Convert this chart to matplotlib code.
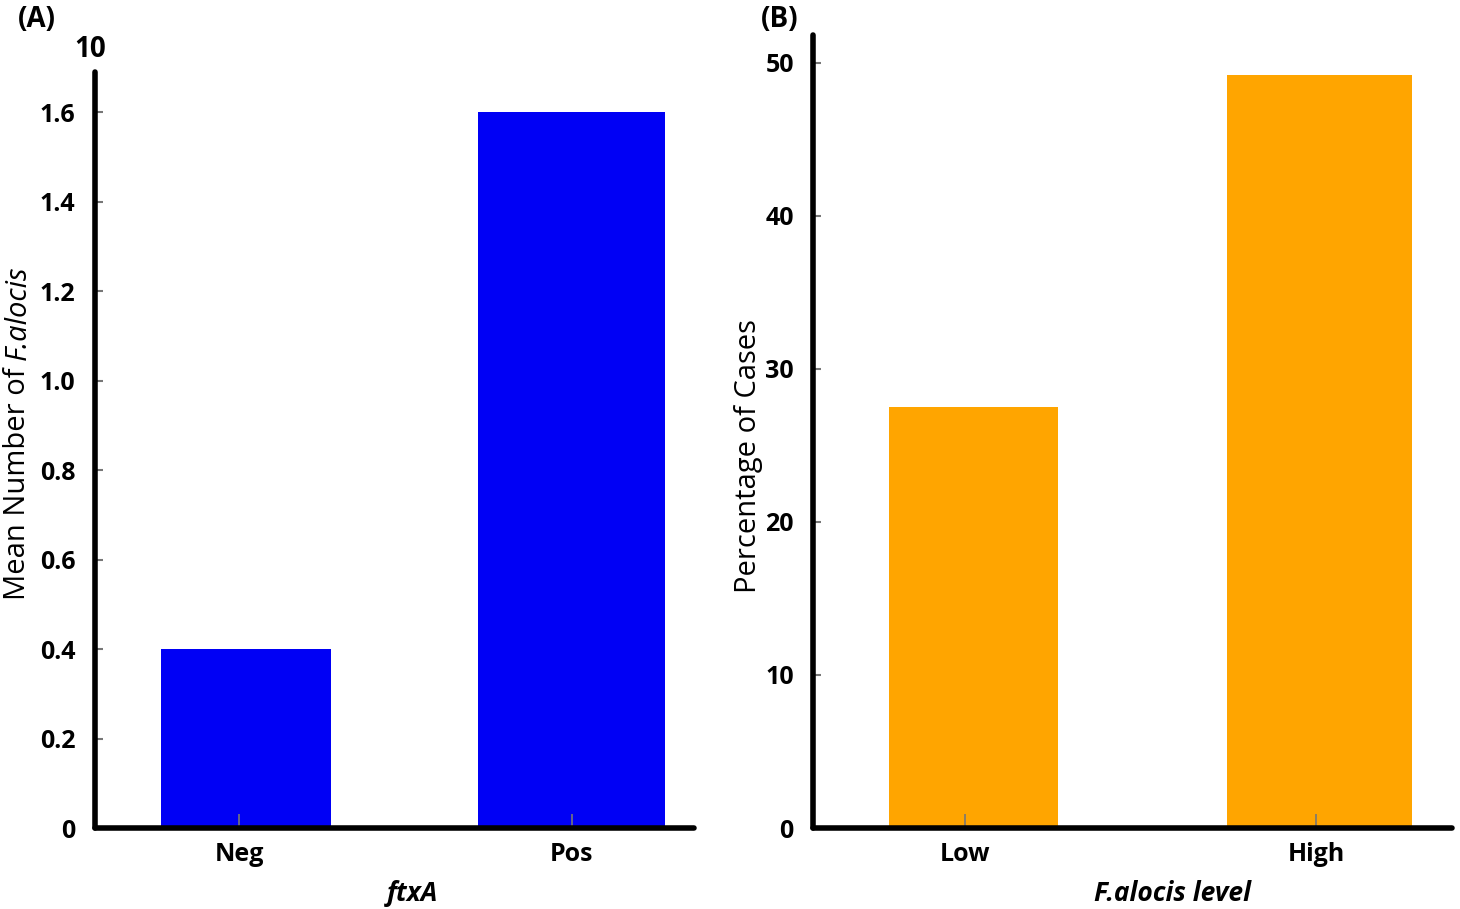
import matplotlib.pyplot as plt

plt.rcParams['font.family'] = ['Open Sans', 'DejaVu Sans']

# panel A data
ftxa_groups = ['Neg', 'Pos']
ftxa_means = [0.40, 1.60]
ftxa_ticks = [0, 0.2, 0.4, 0.6, 0.8, 1.0, 1.2, 1.4, 1.6]
ftxa_ticklabels = ['0', '0.2', '0.4', '0.6', '0.8', '1.0', '1.2', '1.4', '1.6']

# panel B data
level_groups = ['Low', 'High']
level_pct = [27.5, 49.2]
level_ticks = [0, 10, 20, 30, 40, 50]

fig = plt.figure(figsize=(14.6, 9.09), dpi=100)

axA = fig.add_axes([0.065, 0.089, 0.410, 0.832])
axB = fig.add_axes([0.557, 0.089, 0.4375, 0.8725])


def style_axis(ax):
    for side in ['top', 'right']:
        ax.spines[side].set_visible(False)
    for side in ['left', 'bottom']:
        ax.spines[side].set_linewidth(4)
        ax.spines[side].set_capstyle('round')
    ax.tick_params(axis='y', direction='in', length=6, width=1.5, color='#777777',
                   labelsize=18, pad=14)
    ax.tick_params(axis='x', direction='in', length=10, width=1.2, color='#777777',
                   labelsize=18, pad=10)
    for lbl in ax.get_xticklabels() + ax.get_yticklabels():
        lbl.set_fontweight('bold')


# (A)
axA.bar([0.02, 1.0], ftxa_means, width=[0.51, 0.56], color='#0000f5', zorder=1)
axA.set_xlim(-0.434, 1.367)
axA.set_ylim(0, 1.69)
axA.set_xticks([0, 1])
axA.set_xticklabels(ftxa_groups)
axA.set_yticks(ftxa_ticks)
axA.set_yticklabels(ftxa_ticklabels)
style_axis(axA)
axA.set_xlabel('ftxA', fontsize=19, fontweight='bold', style='italic')
axA.xaxis.set_label_coords(0.53, -0.068)

# y label in two parts so only the species name is italic
ylab1 = fig.text(0.0123, 0.340, 'Mean Number of ', fontsize=21, rotation=90,
                 ha='center', va='bottom')
fig.canvas.draw()
bb = ylab1.get_window_extent()
ylab2 = fig.text(0.0123, bb.y1 / fig.bbox.height, 'F.alocis', fontsize=21,
                 style='italic', rotation=90, ha='center', va='bottom')

fig.text(0.062, 0.945, '10', fontsize=20, fontweight='bold', ha='center', va='center')
fig.text(0.012, 0.978, '(A)', fontsize=20, fontweight='bold', ha='left', va='center')

# (B)
axB.bar([0.024, 1.01], level_pct, width=[0.48, 0.527], color='#ffa500', zorder=1)
axB.set_xlim(-0.433, 1.387)
axB.set_ylim(0, 51.8)
axB.set_xticks([0, 1])
axB.set_xticklabels(level_groups)
axB.set_yticks(level_ticks)
style_axis(axB)
axB.set_ylabel('Percentage of Cases', fontsize=21)
axB.yaxis.set_label_coords(-0.079, 0.469)
axB.set_xlabel('F.alocis level', fontsize=19, fontweight='bold', style='italic')
axB.xaxis.set_label_coords(0.562, -0.065)
fig.text(0.521, 0.978, '(B)', fontsize=20, fontweight='bold', ha='left', va='center')

fig.savefig('out.png', dpi=100)
